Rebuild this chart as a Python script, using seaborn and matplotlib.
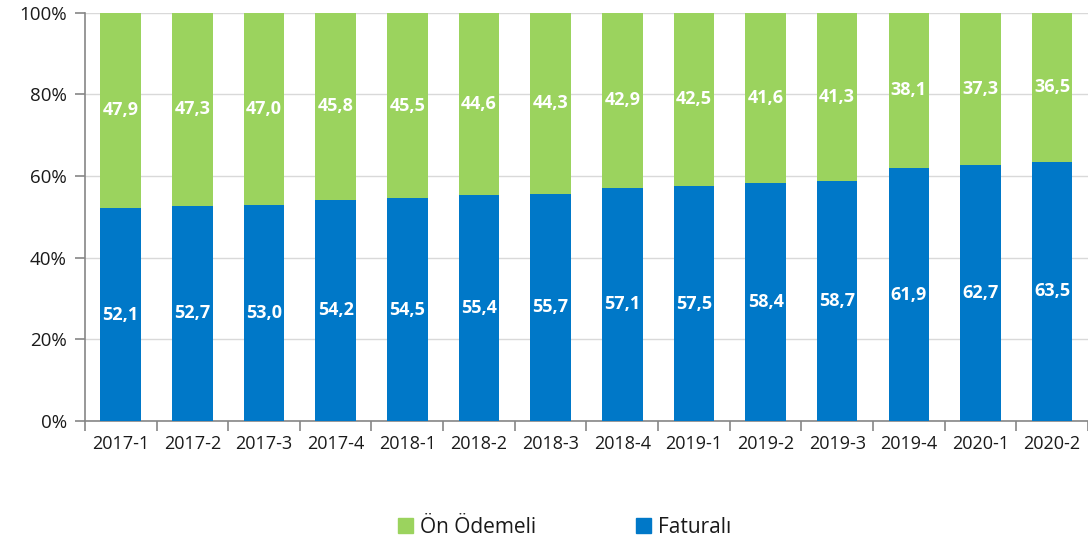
import matplotlib
matplotlib.use("Agg")
import matplotlib.pyplot as plt
import matplotlib.patches as mpatches
from matplotlib.ticker import FixedLocator, PercentFormatter
import seaborn as sns
import pandas as pd

periods = ["2017-1", "2017-2", "2017-3", "2017-4", "2018-1", "2018-2", "2018-3",
           "2018-4", "2019-1", "2019-2", "2019-3", "2019-4", "2020-1", "2020-2"]
faturali = [52.1, 52.7, 53.0, 54.2, 54.5, 55.4, 55.7, 57.1, 57.5, 58.4, 58.7, 61.9, 62.7, 63.5]
on_odemeli = [47.9, 47.3, 47.0, 45.8, 45.5, 44.6, 44.3, 42.9, 42.5, 41.6, 41.3, 38.1, 37.3, 36.5]

GREEN = "#9BD35E"
BLUE = "#0078C8"
GRID = "#D9D9D9"
AXIS = "#868686"

df = pd.DataFrame({"donem": periods, "faturali": faturali, "on_odemeli": on_odemeli})
df["toplam"] = df["faturali"] + df["on_odemeli"]

sns.set_theme(style="white")
plt.rcParams["font.family"] = ["Open Sans", "DejaVu Sans"]

fig = plt.figure(figsize=(10.88, 5.49), dpi=100)
ax = fig.add_axes([0.078, 0.233, 0.922, 0.744])

# Stacked bars: full column in green, blue share drawn on top from zero
sns.barplot(data=df, x="donem", y="toplam", color=GREEN, saturation=1,
            width=0.565, linewidth=0, ax=ax, zorder=3)
sns.barplot(data=df, x="donem", y="faturali", color=BLUE, saturation=1,
            width=0.565, linewidth=0, ax=ax, zorder=3)

for i, (f, o) in enumerate(zip(faturali, on_odemeli)):
    ax.text(i, f / 2, f"{f:.1f}".replace(".", ","), ha="center", va="center",
            color="white", fontsize=13, fontweight="bold", zorder=4)
    ax.text(i, f + o / 2, f"{o:.1f}".replace(".", ","), ha="center", va="center",
            color="white", fontsize=13, fontweight="bold", zorder=4)

ax.set_xlim(-0.5, len(periods) - 0.5)
ax.set_ylim(0, 100)
ax.yaxis.set_major_locator(FixedLocator([0, 20, 40, 60, 80, 100]))
ax.yaxis.set_major_formatter(PercentFormatter(decimals=0))
ax.grid(axis="y", color=GRID, linewidth=1, zorder=0)
ax.set_axisbelow(True)

ax.set_xlabel("")
ax.set_ylabel("")

for side in ("top", "right"):
    ax.spines[side].set_visible(False)
for side in ("left", "bottom"):
    ax.spines[side].set_color(AXIS)
    ax.spines[side].set_linewidth(1.2)

# Category ticks sit between the bars; labels stay centred under each bar
ax.xaxis.set_minor_locator(FixedLocator([k - 0.5 for k in range(len(periods) + 1)]))
ax.tick_params(axis="x", which="major", length=0, pad=10, labelsize=13, labelcolor="#1a1a1a")
ax.tick_params(axis="x", which="minor", bottom=True, length=7, width=1.2, color=AXIS)
ax.tick_params(axis="y", which="major", left=True, length=7, width=1.2, color=AXIS,
               labelsize=13.5, labelcolor="#1a1a1a", pad=6)

handles = [mpatches.Patch(color=GREEN, label="Ön Ödemeli"),
           mpatches.Patch(color=BLUE, label="Faturalı")]
fig.legend(handles=handles, loc="center", bbox_to_anchor=(0.519, 0.04), ncol=2,
           frameon=False, fontsize=15, handlelength=0.7, handleheight=0.7,
           handletextpad=0.35, columnspacing=4.8, labelcolor="#1a1a1a")

fig.savefig("out.png", dpi=100)
